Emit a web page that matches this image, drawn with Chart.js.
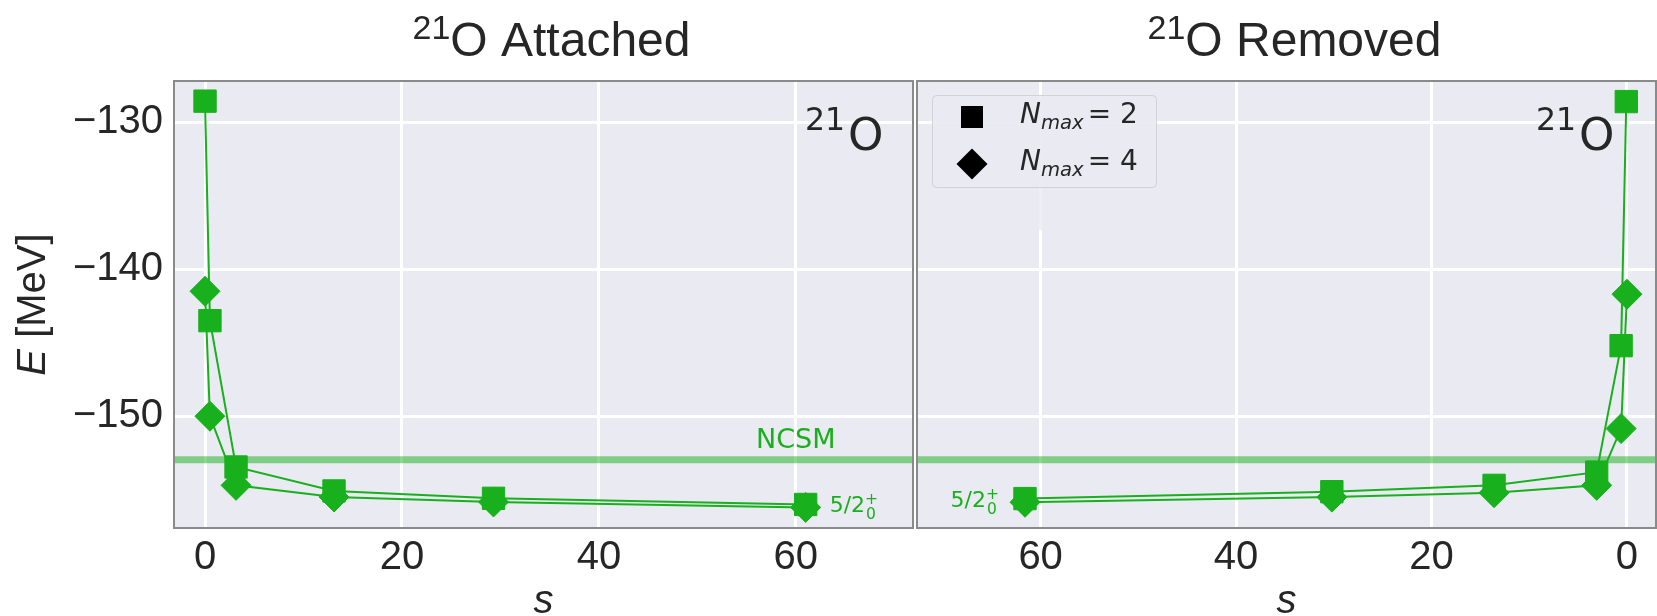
<!DOCTYPE html>
<html>
<head>
<meta charset="utf-8">
<script src="https://cdn.jsdelivr.net/npm/chart.js@4.4.1/dist/chart.umd.min.js"></script>
<style>
  html, body { margin: 0; padding: 0; background: #ffffff; }
  #wrap { position: relative; width: 1657px; height: 616px; }
  #wrap canvas { position: absolute; left: 0; top: 0; }
</style>
</head>
<body>
<div id="wrap">
  <canvas id="attached" width="1657" height="616"></canvas>
  <canvas id="removed" width="1657" height="616"></canvas>
</div>
<script>
// Flow parameter s and ground-state energy E [MeV] of 21O, 21O attached
const sAttN2 = [0, 0.5, 3.15, 13.1, 29.3, 61.0];
const eAttN2 = [-128.57, -143.5, -153.45, -155.08, -155.58, -156.0];
const sAttN4 = [0, 0.5, 3.15, 13.1, 29.3, 61.0];
const eAttN4 = [-141.5, -150.0, -154.7, -155.49, -155.83, -156.2];

// 21O removed
const sRemN2 = [0.07, 0.6, 3.1, 13.6, 30.2, 61.6];
const eRemN2 = [-128.6, -145.2, -153.8, -154.7, -155.13, -155.6];
const sRemN4 = [0, 0.6, 3.1, 13.6, 30.2, 61.6];
const eRemN4 = [-141.7, -150.84, -154.7, -155.2, -155.5, -155.85];

// NCSM reference energy
const eNCSM = -152.95;

// Axis ticks and limits
const eTicks = [-150, -140, -130];
const sTicks = [0, 20, 40, 60];
const eLimits = [-157.6, -127.2];
const sLimitsAtt = [-3.15, 71.9];
const sLimitsRem = [-2.97, 72.65];

const GREEN = '#18b01c';
const GREEN_BAND = 'rgba(24,176,28,0.5)';
const PANEL_BG = '#eaeaf2';
const FRAME = '#8a8a8a';
const INK = '#262626';
const SANS = '"Liberation Sans", Arial, sans-serif';
const MATH = '"DejaVu Sans", sans-serif';

function pts(xs, ys) { return xs.map((x, i) => ({ x: x, y: ys[i] })); }

function series(label, xs, ys, style, radius, order) {
  return {
    label: label, data: pts(xs, ys), showLine: true, tension: 0,
    borderColor: GREEN, backgroundColor: GREEN, borderWidth: 2,
    pointStyle: style, pointRadius: radius, pointHoverRadius: radius,
    pointBackgroundColor: GREEN, pointBorderColor: GREEN, pointBorderWidth: 1,
    clip: false, order: order
  };
}

function band(limits) {
  return {
    label: 'NCSM', data: pts(limits, [eNCSM, eNCSM]), showLine: true,
    borderColor: GREEN_BAND, borderWidth: 7, pointRadius: 0, pointHoverRadius: 0,
    clip: 0, order: 2
  };
}

// Draw a sequence of text runs (each with own font and vertical shift)
function runsWidth(ctx, runs) {
  let w = 0;
  runs.forEach(r => { ctx.font = r.font; w += ctx.measureText(r.t).width + (r.gap || 0); });
  return w;
}
function drawRuns(ctx, x, y, runs, color) {
  ctx.fillStyle = color;
  ctx.textBaseline = 'alphabetic';
  ctx.textAlign = 'left';
  runs.forEach(r => {
    ctx.font = r.font;
    ctx.fillText(r.t, x + (r.dx || 0), y + (r.dy || 0));
    x += ctx.measureText(r.t).width + (r.gap || 0) + (r.dx || 0);
  });
  return x;
}

// spin-parity label 5/2_0^+
function stateLabel(ctx, x, y, alignRight) {
  ctx.font = '22px ' + MATH;
  const w = ctx.measureText('5/2').width;
  ctx.font = '15.5px ' + MATH;
  const wSup = ctx.measureText('+').width;
  const x0 = alignRight ? x - w - wSup : x;
  drawRuns(ctx, x0, y, [{ t: '5/2', font: '22px ' + MATH }], GREEN);
  drawRuns(ctx, x0 + w, y, [{ t: '+', font: '15.5px ' + MATH, dy: -8 }], GREEN);
  drawRuns(ctx, x0 + w + 1, y, [{ t: '0', font: '15.5px ' + MATH, dy: 7 }], GREEN);
}

function nucleusLabel(ctx, x, y) {
  drawRuns(ctx, x, y, [
    { t: '21', font: '31.5px ' + MATH, dy: -20, gap: 3 },
    { t: 'O', font: '45px ' + MATH }
  ], INK);
}

function panelFrame(chart) {
  const a = chart.chartArea, ctx = chart.ctx;
  ctx.save();
  ctx.strokeStyle = FRAME;
  ctx.lineWidth = 2;
  ctx.strokeRect(a.left, a.top, a.right - a.left, a.bottom - a.top);
  ctx.restore();
}

const panelBg = {
  id: 'panelBg',
  beforeDraw(chart) {
    const a = chart.chartArea, ctx = chart.ctx;
    ctx.save();
    ctx.fillStyle = PANEL_BG;
    ctx.fillRect(a.left, a.top, a.right - a.left, a.bottom - a.top);
    ctx.restore();
  }
};

function scales(limits, reverse, showY, yWidth) {
  return {
    x: {
      type: 'linear', min: limits[0], max: limits[1], reverse: reverse,
      afterBuildTicks: s => { s.ticks = sTicks.map(v => ({ value: v })); },
      afterFit: s => { s.height = 88; },
      grid: { color: '#ffffff', lineWidth: 3, drawTicks: false },
      border: { display: false },
      ticks: { font: { family: SANS, size: 40 }, color: INK, padding: 6, maxRotation: 0, autoSkip: false }
    },
    y: {
      type: 'linear', min: eLimits[0], max: eLimits[1],
      afterBuildTicks: s => { s.ticks = eTicks.map(v => ({ value: v })); },
      afterFit: s => { s.width = yWidth; },
      grid: { color: '#ffffff', lineWidth: 3, drawTicks: false },
      border: { display: false },
      ticks: {
        display: showY, font: { family: SANS, size: 40 }, color: INK, padding: 11,
        callback: v => String(v).replace('-', '\u2212')
      }
    }
  };
}

const common = {
  responsive: false, animation: false, events: [],
  plugins: { legend: { display: false }, tooltip: { enabled: false }, title: { display: false } }
};

// ---- Left panel: 21O attached ----
new Chart(document.getElementById('attached'), {
  type: 'scatter',
  data: {
    datasets: [
      series('Nmax = 4', sAttN4, eAttN4, 'rectRot', 15, 0),
      series('Nmax = 2', sAttN2, eAttN2, 'rect', 15.8, 1),
      band(sLimitsAtt)
    ]
  },
  options: Object.assign({}, common, {
    layout: { autoPadding: false, padding: { left: 0, top: 81, right: 1657 - 913, bottom: 0 } },
    scales: scales(sLimitsAtt, false, true, 174)
  }),
  plugins: [panelBg, {
    id: 'attachedDecor',
    afterDraw(chart) {
      const ctx = chart.ctx, a = chart.chartArea;
      const xs = chart.scales.x, ys = chart.scales.y;
      ctx.save();
      panelFrame(chart);
      // title
      const title = [
        { t: '21', font: '34px ' + SANS, dy: -17 },
        { t: 'O Attached', font: '48px ' + SANS }
      ];
      const tw = runsWidth(ctx, title);
      drawRuns(ctx, (a.left + a.right) / 2 + 8 - tw / 2, 56, title, INK);
      // y-axis label
      ctx.save();
      ctx.translate(45, (a.top + a.bottom) / 2);
      ctx.rotate(-Math.PI / 2);
      const yl = [{ t: 'E', font: 'italic 40px ' + SANS }, { t: ' [MeV]', font: '40px ' + SANS }];
      drawRuns(ctx, -runsWidth(ctx, yl) / 2, 0, yl, INK);
      ctx.restore();
      // x-axis label
      ctx.font = 'italic 40px ' + SANS;
      ctx.fillStyle = INK; ctx.textAlign = 'center'; ctx.textBaseline = 'alphabetic';
      ctx.fillText('s', (a.left + a.right) / 2, 613);
      // annotations
      nucleusLabel(ctx, 805, 150);
      drawRuns(ctx, 756, ys.getPixelForValue(eNCSM) - 12, [{ t: 'NCSM', font: '27px ' + MATH }], GREEN);
      const last = sAttN2.length - 1;
      stateLabel(ctx, xs.getPixelForValue(sAttN2[last]) + 24, ys.getPixelForValue(eAttN2[last]) + 8, false);
      ctx.restore();
    }
  }]
});

// ---- Right panel: 21O removed ----
new Chart(document.getElementById('removed'), {
  type: 'scatter',
  data: {
    datasets: [
      series('Nmax = 4', sRemN4, eRemN4, 'rectRot', 15, 0),
      series('Nmax = 2', sRemN2, eRemN2, 'rect', 15.8, 1),
      band(sLimitsRem)
    ]
  },
  options: Object.assign({}, common, {
    layout: { autoPadding: false, padding: { left: 0, top: 81, right: 1, bottom: 0 } },
    scales: scales(sLimitsRem, true, false, 917)
  }),
  plugins: [panelBg, {
    id: 'removedLegendVeil',
    beforeDatasetsDraw(chart) {
      const ctx = chart.ctx;
      ctx.save();
      ctx.fillStyle = 'rgba(234,234,242,0.8)';
      ctx.fillRect(932, 95, 224, 135);
      ctx.restore();
    }
  }, {
    id: 'removedDecor',
    afterDraw(chart) {
      const ctx = chart.ctx, a = chart.chartArea;
      const xs = chart.scales.x, ys = chart.scales.y;
      ctx.save();
      panelFrame(chart);
      const title = [
        { t: '21', font: '34px ' + SANS, dy: -17 },
        { t: 'O Removed', font: '48px ' + SANS }
      ];
      const tw = runsWidth(ctx, title);
      drawRuns(ctx, (a.left + a.right) / 2 + 8 - tw / 2, 56, title, INK);
      ctx.font = 'italic 40px ' + SANS;
      ctx.fillStyle = INK; ctx.textAlign = 'center'; ctx.textBaseline = 'alphabetic';
      ctx.fillText('s', (a.left + a.right) / 2, 613);
      nucleusLabel(ctx, 1536, 150);
      const last = sRemN2.length - 1;
      stateLabel(ctx, xs.getPixelForValue(sRemN2[last]) - 26, ys.getPixelForValue(eRemN2[last]) + 8, true);

      // legend
      const lx = 932, ly = 95, lw = 224, lh = 92;
      ctx.beginPath();
      if (ctx.roundRect) ctx.roundRect(lx + 0.5, ly + 0.5, lw, lh, 4); else ctx.rect(lx + 0.5, ly + 0.5, lw, lh);
      ctx.fillStyle = 'rgba(234,234,242,0.8)';
      ctx.fill();
      ctx.strokeStyle = 'rgba(204,204,204,0.8)';
      ctx.lineWidth = 1;
      ctx.stroke();
      const rows = [{ y: 117, n: '2', style: 'rect' }, { y: 164, n: '4', style: 'rectRot' }];
      rows.forEach(r => {
        ctx.fillStyle = '#000000';
        ctx.beginPath();
        if (r.style === 'rect') {
          ctx.rect(972 - 11, r.y - 11, 22, 22);
        } else {
          ctx.moveTo(972 - 15.5, r.y); ctx.lineTo(972, r.y - 15.5);
          ctx.lineTo(972 + 15.5, r.y); ctx.lineTo(972, r.y + 15.5);
          ctx.closePath();
        }
        ctx.fill();
        drawRuns(ctx, 1020, r.y + 6, [
          { t: 'N', font: 'italic 28px ' + MATH },
          { t: 'max', font: 'italic 19.6px ' + MATH, dy: 6, gap: 4 },
          { t: '= ' + r.n, font: '28px ' + MATH }
        ], INK);
      });
      ctx.restore();
    }
  }]
});
</script>
</body>
</html>
